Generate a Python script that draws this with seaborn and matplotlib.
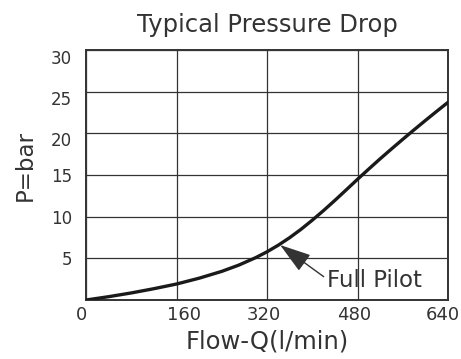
import matplotlib
matplotlib.use("Agg")
import matplotlib.pyplot as plt
import matplotlib.transforms as mtransforms
import seaborn as sns
import pandas as pd

# values
flow = [0, 40, 80, 120, 160, 200, 240, 270, 300, 320, 340, 360, 380, 400, 420,
        440, 460, 480, 500, 520, 540, 560, 580, 600, 620, 640]
pressure = [0, 0.4, 0.85, 1.36, 1.92, 2.62, 3.44, 4.19, 5.09, 5.79, 6.59, 7.49, 8.49, 9.59, 10.75,
            11.97, 13.23, 14.5, 15.74, 16.96, 18.14, 19.3, 20.44, 21.56, 22.66, 23.74]

x_ticks = [0, 160, 320, 480, 640]
y_ticks = [5, 10, 15, 20, 25, 30]

df = pd.DataFrame({"flow": flow, "pressure": pressure})

sns.set_theme(style="white")
plt.rcParams["font.family"] = ["DejaVu Sans"]
ink = "#333333"

fig = plt.figure(figsize=(4.61, 3.59), dpi=100)
ax = fig.add_axes([0.1866, 0.1643, 0.7856, 0.6964])

sns.lineplot(data=df, x="flow", y="pressure", ax=ax, color="#1a1a1a", lw=2.4, zorder=3)

ax.set_xlim(0, 640)
ax.set_ylim(0, 30)
ax.set_xticks(x_ticks)
ax.set_yticks(y_ticks)
ax.grid(True, color=ink, lw=0.9)
for s in ax.spines.values():
    s.set_color(ink)
    s.set_linewidth(1.4)
ax.tick_params(axis="both", length=0, colors=ink)
ax.tick_params(axis="y", pad=10, labelsize=12)
ax.tick_params(axis="x", pad=4, labelsize=13)

# small label nudges seen in the reference (pixels)
x_nudge = [-5, 7, -3, -4, -5]
for lab, dx in zip(ax.get_xticklabels(), x_nudge):
    lab.set_transform(lab.get_transform() + mtransforms.ScaledTranslation(dx / 100, 0, fig.dpi_scale_trans))
y_nudge = [0, 0, 0, -6, -6, -7]
for lab, dy in zip(ax.get_yticklabels(), y_nudge):
    lab.set_transform(lab.get_transform() + mtransforms.ScaledTranslation(0, dy / 100, fig.dpi_scale_trans))

ax.set_xlabel("Flow-Q(l/min)", fontsize=17.5, color=ink, labelpad=4)
ax.set_ylabel("P=bar", fontsize=16.5, color=ink)
ax.yaxis.set_label_coords(-0.135, 0.54)
ax.set_title("Typical Pressure Drop", fontsize=17.5, color=ink, pad=13)

ax.annotate("", xy=(343, 6.6), xytext=(420, 2.8),
            arrowprops=dict(arrowstyle="-|>,head_length=0.85,head_width=0.27",
                            color=ink, lw=1.0, shrinkA=0, shrinkB=0,
                            mutation_scale=23))
ax.text(425, 1.6, "Full Pilot", fontsize=16.5, color=ink, va="baseline", ha="left")

fig.savefig("out.png", dpi=100)
